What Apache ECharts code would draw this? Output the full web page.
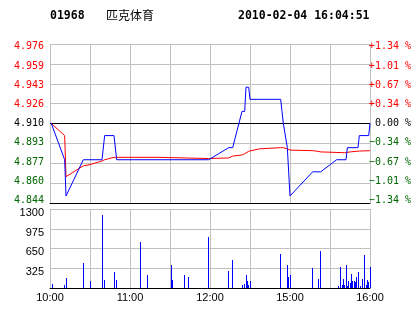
<!DOCTYPE html>
<html>
<head>
<meta charset="utf-8">
<script src="https://cdn.jsdelivr.net/npm/echarts@6/dist/echarts.min.js"></script>
<style>
html,body{margin:0;padding:0;background:#fff;}
#c{width:414px;height:314px;}
</style>
</head>
<body>
<div id="c"></div>
<script>
// ---- data ----
const stockCode = '01968';
const stockName = '匹克体育';
const stampText = '2010-02-04 16:04:51';
const prevClose = 4.91;

// minute index from 10:00 (0..150 = 10:00-12:30, 150..240 = 14:30-16:00)
const priceMinutes = [1, 11, 12, 25, 39, 41, 48, 50, 119, 134, 137, 144, 146, 147, 149, 150, 173, 174, 175, 178, 180, 197, 203, 215, 222, 223, 231, 232, 239, 240];
const priceValues  = [4.91, 4.88, 4.85, 4.88, 4.88, 4.90, 4.90, 4.88, 4.88, 4.89, 4.89, 4.92, 4.92, 4.94, 4.94, 4.93, 4.93, 4.92, 4.91, 4.89, 4.85, 4.87, 4.87, 4.88, 4.88, 4.89, 4.89, 4.90, 4.90, 4.91];

const avgMinutes = [1, 11, 12, 25, 30, 39, 41, 48, 81, 82, 119, 134, 137, 144, 146, 147, 149, 150, 157, 173, 175, 178, 180, 197, 201, 203, 216, 221, 226, 232, 240];
const avgValues  = [4.91, 4.90, 4.866, 4.875, 4.876, 4.879, 4.880, 4.882, 4.882, 4.881, 4.881, 4.8815, 4.883, 4.884, 4.885, 4.886, 4.887, 4.8875, 4.889, 4.890, 4.890, 4.889, 4.888, 4.8875, 4.887, 4.8865, 4.886, 4.8858, 4.8866, 4.8872, 4.8875];

const volMinutes = [2, 11, 12, 25, 30, 39, 41, 48, 50, 68, 73, 91, 92, 101, 104, 119, 134, 137, 144, 146, 147, 148, 149, 150, 173, 178, 179, 180, 197, 201, 203, 216, 218, 219, 220, 221, 222, 223, 224, 225, 226, 227, 228, 229, 230, 231, 233, 234, 236, 237, 238, 239, 240];
const volValues  = [70, 54, 168, 416, 108, 1206, 124, 268, 124, 751, 219, 383, 126, 219, 186, 844, 274, 466, 55, 70, 219, 120, 55, 120, 565, 383, 175, 219, 329, 153, 614, 33, 351, 55, 153, 55, 383, 27, 120, 87, 235, 110, 120, 99, 186, 263, 38, 140, 548, 55, 137, 99, 351];

// tick labels (bottom to top)
const priceTickLabels = ['4.844', '4.860', '4.877', '4.893', '4.910', '4.926', '4.943', '4.959', '4.976'];
const pctTickLabels   = ['\u22121.34 %', '\u22121.01 %', '\u22120.67 %', '\u22120.34 %', ' 0.00 %', '+0.34 %', '+0.67 %', '+1.01 %', '+1.34 %'];
const timeTickLabels  = ['10:00', '', '11:00', '', '12:00', '', '15:00', '', '16:00'];
const volTickLabels   = ['', '325', '650', '975', '1300'];

// ---- chart ----
const RED = '#ff0000', GREEN = '#006600', BLACK = '#000000', GRID = '#c0c0c0', BLUE = '#0000ff';
function tickColor(v) { return v > 4 ? RED : (v < 4 ? GREEN : BLACK); }
function pairs(xs, ys) { return xs.map((x, i) => [x, ys[i]]); }
function idxLabel(arr) { return v => { const i = Math.round(v); return arr[i] !== undefined ? arr[i] : ''; }; }

const chart = echarts.init(document.getElementById('c'), null, {renderer: 'canvas'});
const monoFont = 'DejaVu Sans Mono';
const sansFont = 'Liberation Sans';
const hiddenX = g => ({type: 'value', gridIndex: g, min: 0, max: 240, show: false});

chart.setOption({
  animation: false,
  backgroundColor: '#ffffff',
  graphic: [
    {type: 'text', left: 50, top: 10, style: {text: stockCode, font: 'bold 11.5px "DejaVu Sans Mono"', fill: BLACK}},
    {type: 'text', left: 106, top: 9, style: {text: stockName, font: '12px "Noto Sans CJK SC"', fill: BLACK}},
    {type: 'text', left: 238, top: 10, style: {text: stampText, font: 'bold 11.5px "DejaVu Sans Mono"', fill: BLACK}}
  ],
  grid: [
    {left: 50, top: 44, width: 320, height: 159},     // 0 price panel
    {left: 50, top: 209, width: 320, height: 79},     // 1 volume panel
    {left: 50, top: 46.7, width: 320, height: 153.8}, // 2 price label placement
    {left: 50, top: 213, width: 320, height: 78.5}    // 3 volume label placement
  ],
  xAxis: [
    {type: 'value', gridIndex: 0, min: 0, max: 240, interval: 30,
     axisLine: {show: true, onZero: false, lineStyle: {color: BLACK, width: 1}},
     axisTick: {show: false}, axisLabel: {show: false},
     splitLine: {show: true, lineStyle: {color: GRID, width: 1}}},
    {type: 'value', gridIndex: 1, min: 0, max: 240, interval: 30,
     axisLine: {show: true, onZero: false, lineStyle: {color: BLACK, width: 1}},
     axisTick: {show: false},
     axisLabel: {show: true, margin: 4, color: BLACK, fontFamily: sansFont, fontSize: 11,
       formatter: v => timeTickLabels[Math.round(v / 30)] || ''},
     splitLine: {show: true, lineStyle: {color: GRID, width: 1}}},
    hiddenX(2),
    hiddenX(3)
  ],
  yAxis: [
    // 0: price data axis (hidden)
    {type: 'value', gridIndex: 0, min: prevClose * (1 - 0.0134), max: prevClose * (1 + 0.0134), show: false,
     splitLine: {show: false}},
    // 1: horizontal grid lines of price panel
    {type: 'value', gridIndex: 0, min: 0, max: 8, interval: 1, position: 'left',
     axisLine: {show: false}, axisTick: {show: false}, axisLabel: {show: false},
     splitLine: {show: true, lineStyle: {color: GRID, width: 1}}},
    // 2: left price labels
    {type: 'value', gridIndex: 2, min: 0, max: 8, interval: 1, position: 'left',
     axisLine: {show: false}, axisTick: {show: false}, splitLine: {show: false},
     axisLabel: {margin: 6, fontFamily: monoFont, fontSize: 10,
       formatter: idxLabel(priceTickLabels), color: (v) => tickColor(Math.round(v))}},
    // 3: right percentage labels
    {type: 'value', gridIndex: 2, min: 0, max: 8, interval: 1, position: 'right',
     axisLine: {show: false}, axisTick: {show: false}, splitLine: {show: false},
     axisLabel: {margin: 1, align: 'left', fontFamily: monoFont, fontSize: 10,
       formatter: idxLabel(pctTickLabels), color: (v) => tickColor(Math.round(v))}},
    // 4: volume data axis with grid lines
    {type: 'value', gridIndex: 1, min: 0, max: 1300, interval: 325, position: 'left',
     axisLine: {show: false}, axisTick: {show: false}, axisLabel: {show: false},
     splitLine: {show: true, lineStyle: {color: GRID, width: 1}}},
    // 5: volume labels
    {type: 'value', gridIndex: 3, min: 0, max: 1300, interval: 325, position: 'left',
     axisLine: {show: false}, axisTick: {show: false}, splitLine: {show: false},
     axisLabel: {margin: 6, color: BLACK, fontFamily: sansFont, fontSize: 11,
       formatter: v => volTickLabels[Math.round(v / 325)] || ''}}
  ],
  series: [
    {name: 'avg', type: 'line', xAxisIndex: 0, yAxisIndex: 0, data: pairs(avgMinutes, avgValues),
     symbol: 'none', lineStyle: {color: RED, width: 1}, itemStyle: {color: RED}, z: 3},
    {name: 'price', type: 'line', xAxisIndex: 0, yAxisIndex: 0, data: pairs(priceMinutes, priceValues),
     symbol: 'none', lineStyle: {color: BLUE, width: 1}, itemStyle: {color: BLUE}, z: 4,
     markLine: {silent: true, symbol: 'none', label: {show: false},
       lineStyle: {color: BLACK, width: 1, type: 'solid'}, data: [{yAxis: prevClose}], z: 2}},
    {name: 'vol', type: 'custom', xAxisIndex: 1, yAxisIndex: 4, data: pairs(volMinutes, volValues),
     renderItem: function (params, api) {
       const top = api.coord([api.value(0), api.value(1)]);
       const base = api.coord([api.value(0), 0]);
       const x = Math.round(top[0] - 0.5);
       const y = Math.round(top[1]);
       return {type: 'rect', shape: {x: x, y: y, width: 1, height: Math.round(base[1]) - y},
               style: {fill: BLUE}};
     }}
  ]
});
</script>
</body>
</html>
